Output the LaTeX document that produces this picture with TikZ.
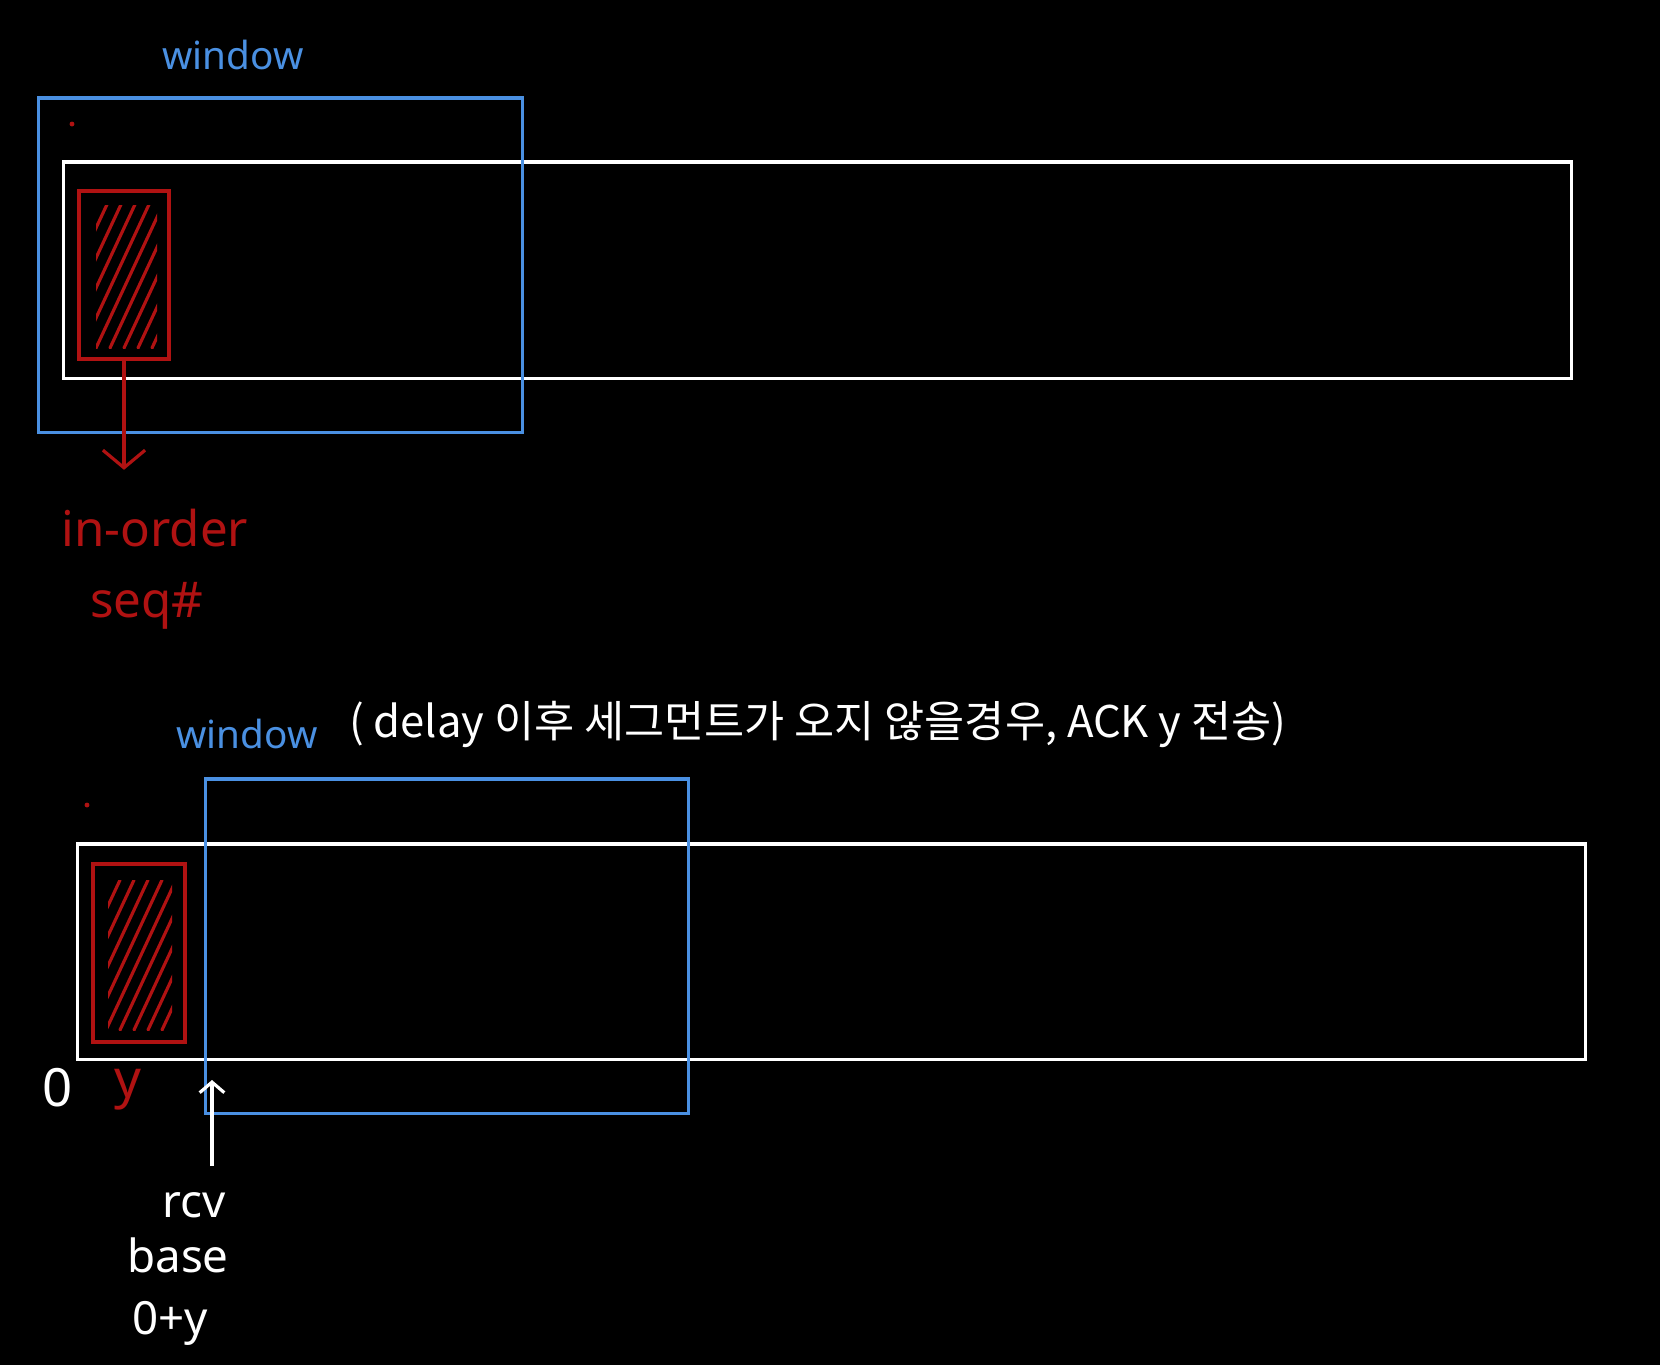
\documentclass[tikz,border=0pt]{standalone}
\usepackage{fontspec}
\setmainfont{Noto Sans}
\newfontfamily\kofont{Noto Sans CJK KR}
\usetikzlibrary{arrows.meta}
\definecolor{winblue}{RGB}{74,144,226}
\definecolor{markred}{RGB}{176,18,18}

\begin{document}
\begin{tikzpicture}[x=0.01cm,y=-0.01cm,
  bar/.style={rectangle,draw=white,line width=0.9pt,inner sep=0pt},
  winbox/.style={rectangle,draw=winblue,line width=0.9pt,inner sep=0pt},
  donebox/.style={rectangle,draw=markred,line width=0.9pt,inner sep=0pt},
  hatch/.style={markred,line width=0.9pt,line cap=round},
  lbl/.style={inner sep=1pt,font=\fontsize{13pt}{15pt}\selectfont},
  winlbl/.style={inner sep=1pt,text=winblue,font=\fontsize{11pt}{13pt}\selectfont}]
\fill[black] (0,0) rectangle (1660,1365);

% first case
\node(twin) at (233,55) [winlbl]{window};
\node(tbar) at (817.5,270) [bar,minimum width=15.07cm,minimum height=2.16cm]{};
\node(twbox) at (280.5,265) [winbox,minimum width=4.83cm,minimum height=3.34cm]{};
\node(tdone) at (124,275) [donebox,minimum width=0.9cm,minimum height=1.68cm]{};
\begin{scope}
\clip (96,205) rectangle (157,348);
\foreach \s in {0,...,9} \draw[hatch] (40+\s*14,348) -- ++(70,-150);
\end{scope}
\fill[markred] (72,124) circle (0.7pt);
\node(inorder) at (155,528) [lbl,text=markred,font=\fontsize{14pt}{16pt}\selectfont]{in-order};
\node(seq) at (147,606) [lbl,text=markred,font=\fontsize{14pt}{16pt}\selectfont]{seq\#};
\draw[hatch,-{Straight Barb[length=5pt,width=12pt]},shorten >=0.35cm] (tdone.south) -- (tdone.south |- inorder.north);

% second case
\node(bwin) at (247,734) [winlbl]{window};
\node(note) at (345,724) [lbl,anchor=west,text=white,font=\kofont\fontsize{12.4pt}{15pt}\selectfont]{( delay 이후 세그먼트가 오지 않을경우, ACK y 전송)};
\node(bbar) at (831.5,951.5) [bar,minimum width=15.07cm,minimum height=2.15cm]{};
\node(bwbox) at (447,946) [winbox,minimum width=4.82cm,minimum height=3.34cm]{};
\node(bdone) at (139,953) [donebox,minimum width=0.92cm,minimum height=1.78cm]{};
\begin{scope}
\clip (108,880) rectangle (172,1030);
\foreach \s in {0,...,10} \draw[hatch] (50+\s*14,1030) -- ++(70,-150);
\end{scope}
\fill[markred] (87,805) circle (0.7pt);
\node(zero) at (58,1088) [lbl,text=white,font=\fontsize{15pt}{17pt}\selectfont]{0};
\node(yy) at (128,1090) [lbl,text=markred,font=\fontsize{15pt}{17pt}\selectfont]{y};
\node(rcv) at (194,1205) [lbl,text=white]{rcv};
\node(base) at (178,1255) [lbl,text=white]{base};
\node(sum) at (170,1323) [lbl,text=white]{0+y};
\coordinate(rcvtip) at (212,1080);
\draw[white,line width=0.9pt,-{Straight Barb[length=3pt,width=7pt]},shorten <=0.22cm] (rcvtip |- rcv.north) -- (rcvtip);
\end{tikzpicture}
\end{document}
